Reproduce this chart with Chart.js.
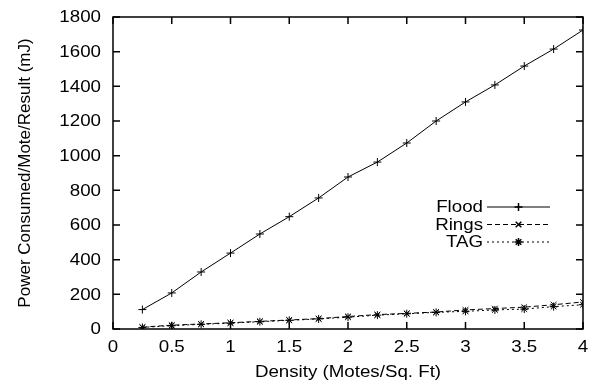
<!DOCTYPE html>
<html>
<head>
<meta charset="utf-8">
<script src="https://cdn.jsdelivr.net/npm/chart.js@4"></script>
<style>
html,body{margin:0;padding:0;background:#fff;}
#wrap{width:603px;height:385px;}
</style>
</head>
<body>
<div id="wrap"><canvas id="c" width="603" height="385"></canvas></div>
<script>
const density = [0.25,0.5,0.75,1.0,1.25,1.5,1.75,2.0,2.25,2.5,2.75,3.0,3.25,3.5,3.75,4.0];
const flood = [112,208,329,438,548,648,756,877,963,1073,1200,1310,1408,1517,1615,1725];
const rings = [11,22,29,36,44,52,60,72,83,90,98,110,118,126,140,156];
const tag   = [9,19,27,34,42,50,58,68,80,88,96,102,110,115,129,140];
const xTicks = [0,0.5,1,1.5,2,2.5,3,3.5,4];
const yTicks = [0,200,400,600,800,1000,1200,1400,1600,1800];
const seriesNames = ['Flood','Rings','TAG'];
const xTitle = 'Density (Motes/Sq. Ft)';
const yTitle = 'Power Consumed/Mote/Result (mJ)';

const FONT = 'Liberation Sans, Arial, Helvetica, sans-serif';
const STRETCH = 1.17;

function pts(arr){ return density.map((d,i)=>({x:d,y:arr[i]})); }

// draw horizontally stretched text
function sText(ctx, txt, x, y, align){
  ctx.save();
  ctx.translate(x, y);
  ctx.scale(STRETCH, 1);
  ctx.textAlign = align;
  ctx.fillText(txt, 0, 0);
  ctx.restore();
}

const framePlugin = {
  id:'frame',
  afterDatasetsDraw(chart){
    const ctx = chart.ctx, a = chart.chartArea;
    const xs = chart.scales.x, ys = chart.scales.y;
    ctx.save();
    ctx.strokeStyle = '#000';
    ctx.lineWidth = 1.5;
    ctx.strokeRect(a.left, a.top, a.right-a.left, a.bottom-a.top);
    ctx.beginPath();
    const L = 7;
    xTicks.forEach(v=>{
      const px = xs.getPixelForValue(v);
      ctx.moveTo(px, a.bottom); ctx.lineTo(px, a.bottom-L);
      ctx.moveTo(px, a.top); ctx.lineTo(px, a.top+L);
    });
    yTicks.forEach(v=>{
      const py = ys.getPixelForValue(v);
      ctx.moveTo(a.left, py); ctx.lineTo(a.left+L, py);
      ctx.moveTo(a.right, py); ctx.lineTo(a.right-L, py);
    });
    ctx.stroke();

    ctx.fillStyle = '#000';
    ctx.font = '16px ' + FONT;
    ctx.textBaseline = 'middle';
    // tick labels
    xTicks.forEach(v=>{
      sText(ctx, String(v), xs.getPixelForValue(v), a.bottom + 19, 'center');
    });
    yTicks.forEach(v=>{
      sText(ctx, String(v), a.left - 12, ys.getPixelForValue(v) + 1, 'right');
    });
    // x title
    sText(ctx, xTitle, (a.left + a.right)/2, a.bottom + 44, 'center');

    // legend
    const textRight = a.left + 370;
    const lineStart = textRight + 4, lineEnd = textRight + 67;
    const y0 = a.top + 190;
    const dy = 17.5;
    chart.data.datasets.forEach((ds,i)=>{
      const yy = y0 + i*dy;
      sText(ctx, ds.label, textRight, yy+1, 'right');
      ctx.save();
      ctx.lineWidth = 1;
      ctx.setLineDash(ds.borderDash || []);
      ctx.beginPath();
      ctx.moveTo(lineStart, yy); ctx.lineTo(lineEnd, yy);
      ctx.stroke();
      ctx.restore();
      Chart.helpers.drawPoint(ctx, {pointStyle: ds.pointStyle, radius: 4, borderWidth:1}, (lineStart+lineEnd)/2, yy);
    });
    ctx.restore();
  }
};

new Chart(document.getElementById('c'), {
  type:'line',
  data:{
    datasets:[
      {label:seriesNames[0], data:pts(flood), borderColor:'#000', backgroundColor:'#000', borderWidth:1, pointStyle:'cross', pointRadius:4, pointBorderWidth:1, borderDash:[]},
      {label:seriesNames[1], data:pts(rings), borderColor:'#000', backgroundColor:'#000', borderWidth:1, pointStyle:'crossRot', pointRadius:4, pointBorderWidth:1, borderDash:[5,3]},
      {label:seriesNames[2], data:pts(tag), borderColor:'#000', backgroundColor:'#000', borderWidth:1, pointStyle:'star', pointRadius:4, pointBorderWidth:1, borderDash:[2,3]}
    ]
  },
  options:{
    responsive:false,
    animation:false,
    devicePixelRatio:1,
    layout:{padding:{top:17,right:20,left:0,bottom:0}},
    plugins:{legend:{display:false},tooltip:{enabled:false}},
    scales:{
      x:{
        type:'linear', min:0, max:4,
        afterBuildTicks(s){ s.ticks = xTicks.map(v=>({value:v})); },
        afterFit(s){ s.height = 56; },
        grid:{display:false, drawTicks:false},
        border:{display:false},
        ticks:{display:false},
        title:{display:false}
      },
      y:{
        type:'linear', min:0, max:1800,
        afterBuildTicks(s){ s.ticks = yTicks.map(v=>({value:v})); },
        afterFit(s){ s.width = 113; },
        grid:{display:false, drawTicks:false},
        border:{display:false},
        ticks:{display:false},
        title:{display:true, text:yTitle, color:'#000', font:{family:FONT,size:17}, padding:{top:15,bottom:0}}
      }
    }
  },
  plugins:[framePlugin]
});
</script>
</body>
</html>
